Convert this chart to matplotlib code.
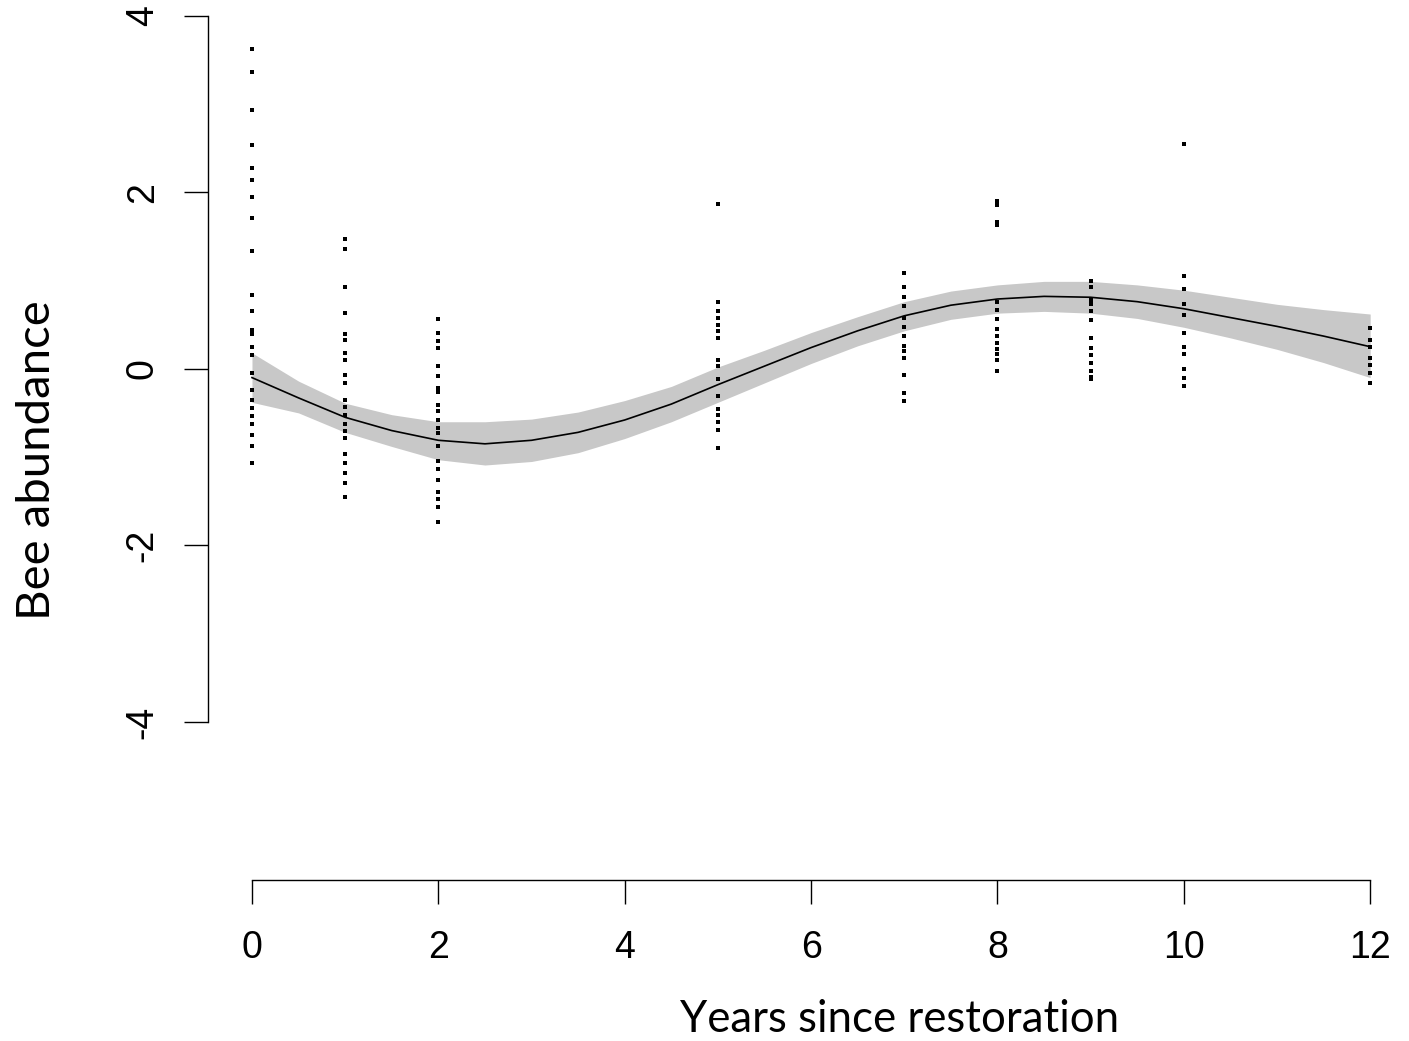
import numpy as np
import matplotlib.pyplot as plt

plt.rcParams["axes.unicode_minus"] = False

# Observed bee abundance (standardised) for each year since restoration
years = [0, 1, 2, 5, 7, 8, 9, 10, 12]
abund_0 = [3.62, 3.36, 2.93, 2.53, 2.27, 2.14, 1.95, 1.71, 1.33, 0.84, 0.65, 0.44, 0.39,
           0.25, 0.16, -0.05, -0.24, -0.35, -0.44, -0.54, -0.63, -0.75, -0.88, -1.07]
abund_1 = [1.47, 1.36, 0.93, 0.63, 0.39, 0.33, 0.18, 0.10, -0.07, -0.16, -0.35, -0.43,
           -0.52, -0.63, -0.70, -0.78, -0.96, -1.07, -1.18, -1.29, -1.45]
abund_2 = [0.56, 0.41, 0.31, 0.23, 0.03, -0.08, -0.22, -0.26, -0.41, -0.48, -0.58, -0.67,
           -0.73, -0.88, -1.05, -1.14, -1.26, -1.39, -1.48, -1.56, -1.73]
abund_5 = [1.87, 0.76, 0.65, 0.57, 0.50, 0.43, 0.35, 0.10, 0.03, -0.12, -0.31, -0.45,
           -0.52, -0.60, -0.69, -0.90]
abund_7 = [1.09, 0.93, 0.81, 0.71, 0.57, 0.47, 0.37, 0.26, 0.20, 0.12, -0.07, -0.27, -0.37]
abund_8 = [1.90, 1.86, 1.66, 1.63, 0.76, 0.67, 0.56, 0.45, 0.37, 0.29, 0.22, 0.17, 0.10, -0.03]
abund_9 = [0.99, 0.93, 0.78, 0.73, 0.65, 0.55, 0.35, 0.23, 0.16, 0.07, -0.03, -0.09, -0.12]
abund_10 = [2.55, 1.05, 0.90, 0.73, 0.61, 0.40, 0.25, 0.17, 0.00, -0.10, -0.20]
abund_12 = [0.46, 0.33, 0.25, 0.12, 0.04, -0.05, -0.16]
abundance = [abund_0, abund_1, abund_2, abund_5, abund_7, abund_8, abund_9, abund_10, abund_12]

# Fitted smooth and its confidence band
fit_x = [0, 0.5, 1, 1.5, 2, 2.5, 3, 3.5, 4, 4.5, 5, 5.5, 6, 6.5, 7, 7.5, 8, 8.5, 9, 9.5,
         10, 10.5, 11, 11.5, 12]
fit_y = [-0.10, -0.33, -0.55, -0.70, -0.81, -0.85, -0.81, -0.72, -0.58, -0.40, -0.18, 0.03,
         0.24, 0.43, 0.60, 0.72, 0.79, 0.82, 0.81, 0.76, 0.68, 0.58, 0.48, 0.37, 0.25]
fit_lo = [-0.38, -0.50, -0.72, -0.88, -1.03, -1.09, -1.05, -0.95, -0.79, -0.60, -0.38, -0.16,
          0.06, 0.26, 0.43, 0.56, 0.63, 0.65, 0.63, 0.57, 0.47, 0.35, 0.22, 0.07, -0.10]
fit_hi = [0.18, -0.14, -0.39, -0.52, -0.60, -0.60, -0.57, -0.49, -0.36, -0.20, 0.02, 0.21,
          0.41, 0.59, 0.76, 0.88, 0.95, 0.99, 0.99, 0.95, 0.89, 0.81, 0.73, 0.67, 0.62]

W, H = 1409, 1041
fig = plt.figure(figsize=(W / 100, H / 100), dpi=100)
ax = fig.add_axes([208 / W, (H - 880) / H, (1400 - 208) / W, 875 / H])

ax.fill_between(fit_x, fit_lo, fit_hi, color="#c8c8c8", linewidth=0)
ax.plot(fit_x, fit_y, color="black", linewidth=1.2)

for yr, vals in zip(years, abundance):
    ax.plot([yr] * len(vals), vals, linestyle="none", marker="s", markersize=3.4,
            markeredgewidth=0, color="black")

ax.set_xlim(-0.472, 12.32)
ax.set_ylim(-5.79, 4.12)

for side in ["top", "right"]:
    ax.spines[side].set_visible(False)
ax.spines["left"].set_bounds(-4, 4)
ax.spines["bottom"].set_bounds(0, 12)
ax.spines["left"].set_linewidth(1.0)
ax.spines["bottom"].set_linewidth(1.0)

ax.set_xticks([0, 2, 4, 6, 8, 10, 12])
ax.set_yticks([-4, -2, 0, 2, 4])
ax.tick_params(axis="both", length=17, width=1.0, labelsize=27)
ax.tick_params(axis="x", pad=19)
ax.tick_params(axis="y", pad=17)
for lab in ax.get_xticklabels() + ax.get_yticklabels():
    lab.set_family("Liberation Sans")
    lab.set_weight("medium")
for lab in ax.get_yticklabels():
    lab.set_rotation(90)
    lab.set_va("center")

fig.text(37 / W, 1 - 460 / H, "Bee abundance", rotation=90, ha="center", va="center",
         fontsize=34, family="Lato")
fig.text(900 / W, 1 - 1020 / H, "Years since restoration", ha="center", va="center",
         fontsize=31.5, family="Lato")

plt.savefig("out.png", dpi=100)
